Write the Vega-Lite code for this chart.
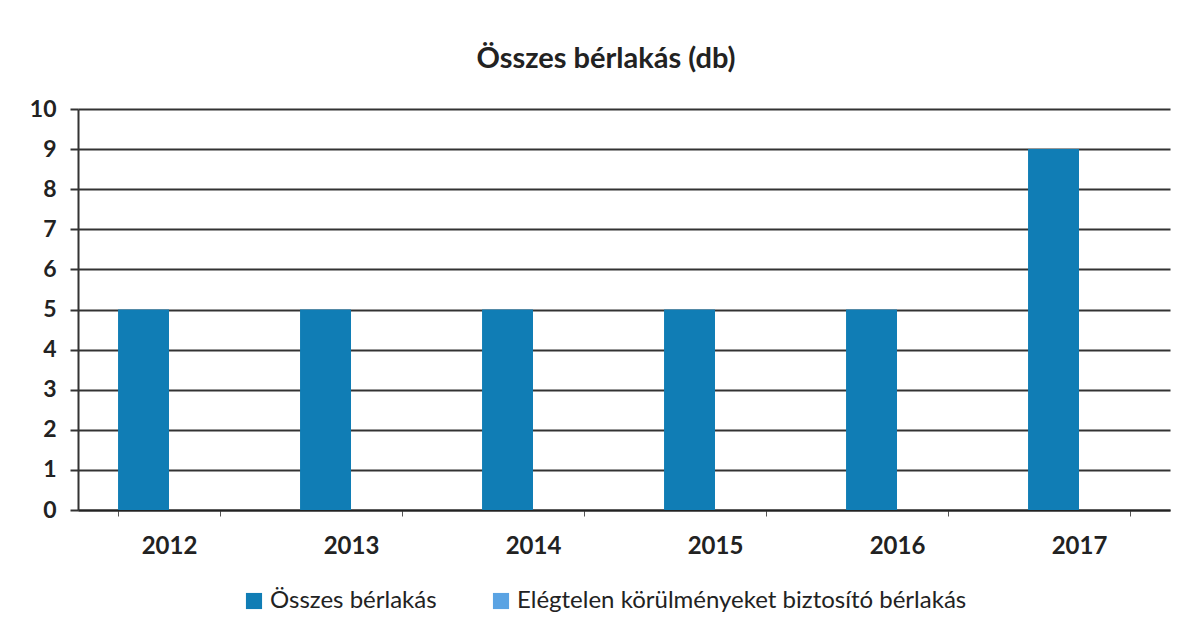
{
  "$schema": "https://vega.github.io/schema/vega-lite/v6.json",
  "width": 1092,
  "height": 401,
  "autosize": {"type": "none"},
  "padding": {"left": 78, "top": 109, "right": 19, "bottom": 126},
  "background": "white",
  "config": {
    "font": "Lato",
    "view": {"stroke": null}
  },
  "title": {
    "text": "Összes bérlakás (db)",
    "fontSize": 29,
    "font": "Lato",
    "fontWeight": "bold",
    "color": "#222",
    "anchor": "middle",
    "frame": "group",
    "dx": -18,
    "offset": 24
  },
  "data": {
    "values": [
      {"ev": "2012", "sorozat": "Összes bérlakás", "db": 5},
      {"ev": "2013", "sorozat": "Összes bérlakás", "db": 5},
      {"ev": "2014", "sorozat": "Összes bérlakás", "db": 5},
      {"ev": "2015", "sorozat": "Összes bérlakás", "db": 5},
      {"ev": "2016", "sorozat": "Összes bérlakás", "db": 5},
      {"ev": "2017", "sorozat": "Összes bérlakás", "db": 9},
      {"ev": "2012", "sorozat": "Elégtelen körülményeket biztosító bérlakás", "db": 0},
      {"ev": "2013", "sorozat": "Elégtelen körülményeket biztosító bérlakás", "db": 0},
      {"ev": "2014", "sorozat": "Elégtelen körülményeket biztosító bérlakás", "db": 0},
      {"ev": "2015", "sorozat": "Elégtelen körülményeket biztosító bérlakás", "db": 0},
      {"ev": "2016", "sorozat": "Elégtelen körülményeket biztosító bérlakás", "db": 0},
      {"ev": "2017", "sorozat": "Elégtelen körülményeket biztosító bérlakás", "db": 0}
    ]
  },
  "mark": {"type": "bar"},
  "encoding": {
    "x": {
      "field": "ev",
      "type": "nominal",
      "title": null,
      "scale": {"paddingInner": 0.44, "paddingOuter": 0.22},
      "axis": {
        "labelAngle": 0,
        "labelFontSize": 24,
        "labelFontWeight": "bold",
        "labelColor": "#222",
        "labelPadding": 18,
        "domainColor": "#222",
        "domainWidth": 2,
        "tickBand": "extent",
        "tickColor": "#555",
        "tickSize": 6,
        "grid": false
      }
    },
    "xOffset": {
      "field": "sorozat",
      "type": "nominal",
      "sort": ["Összes bérlakás", "Elégtelen körülményeket biztosító bérlakás"],
      "scale": {"paddingInner": 0, "paddingOuter": 0}
    },
    "y": {
      "field": "db",
      "type": "quantitative",
      "title": null,
      "scale": {"domain": [0, 10]},
      "axis": {
        "values": [0, 1, 2, 3, 4, 5, 6, 7, 8, 9, 10],
        "labelFontSize": 23,
        "labelFontWeight": "bold",
        "labelColor": "#222",
        "labelPadding": 14,
        "tickSize": 8,
        "tickColor": "#333",
        "tickWidth": 2,
        "domainColor": "#333",
        "domainWidth": 2,
        "grid": true,
        "gridColor": "#333",
        "gridWidth": 2
      }
    },
    "color": {
      "field": "sorozat",
      "type": "nominal",
      "sort": ["Összes bérlakás", "Elégtelen körülményeket biztosító bérlakás"],
      "scale": {
        "domain": ["Összes bérlakás", "Elégtelen körülményeket biztosító bérlakás"],
        "range": ["#107db5", "#5aa3e3"]
      },
      "legend": {
        "title": null,
        "orient": "none",
        "direction": "horizontal",
        "legendX": 164,
        "legendY": 480,
        "symbolType": "square",
        "symbolSize": 260,
        "labelFontSize": 24,
        "labelColor": "#222",
        "labelLimit": 700,
        "columnPadding": 52,
        "labelOffset": 4
      }
    }
  }
}
